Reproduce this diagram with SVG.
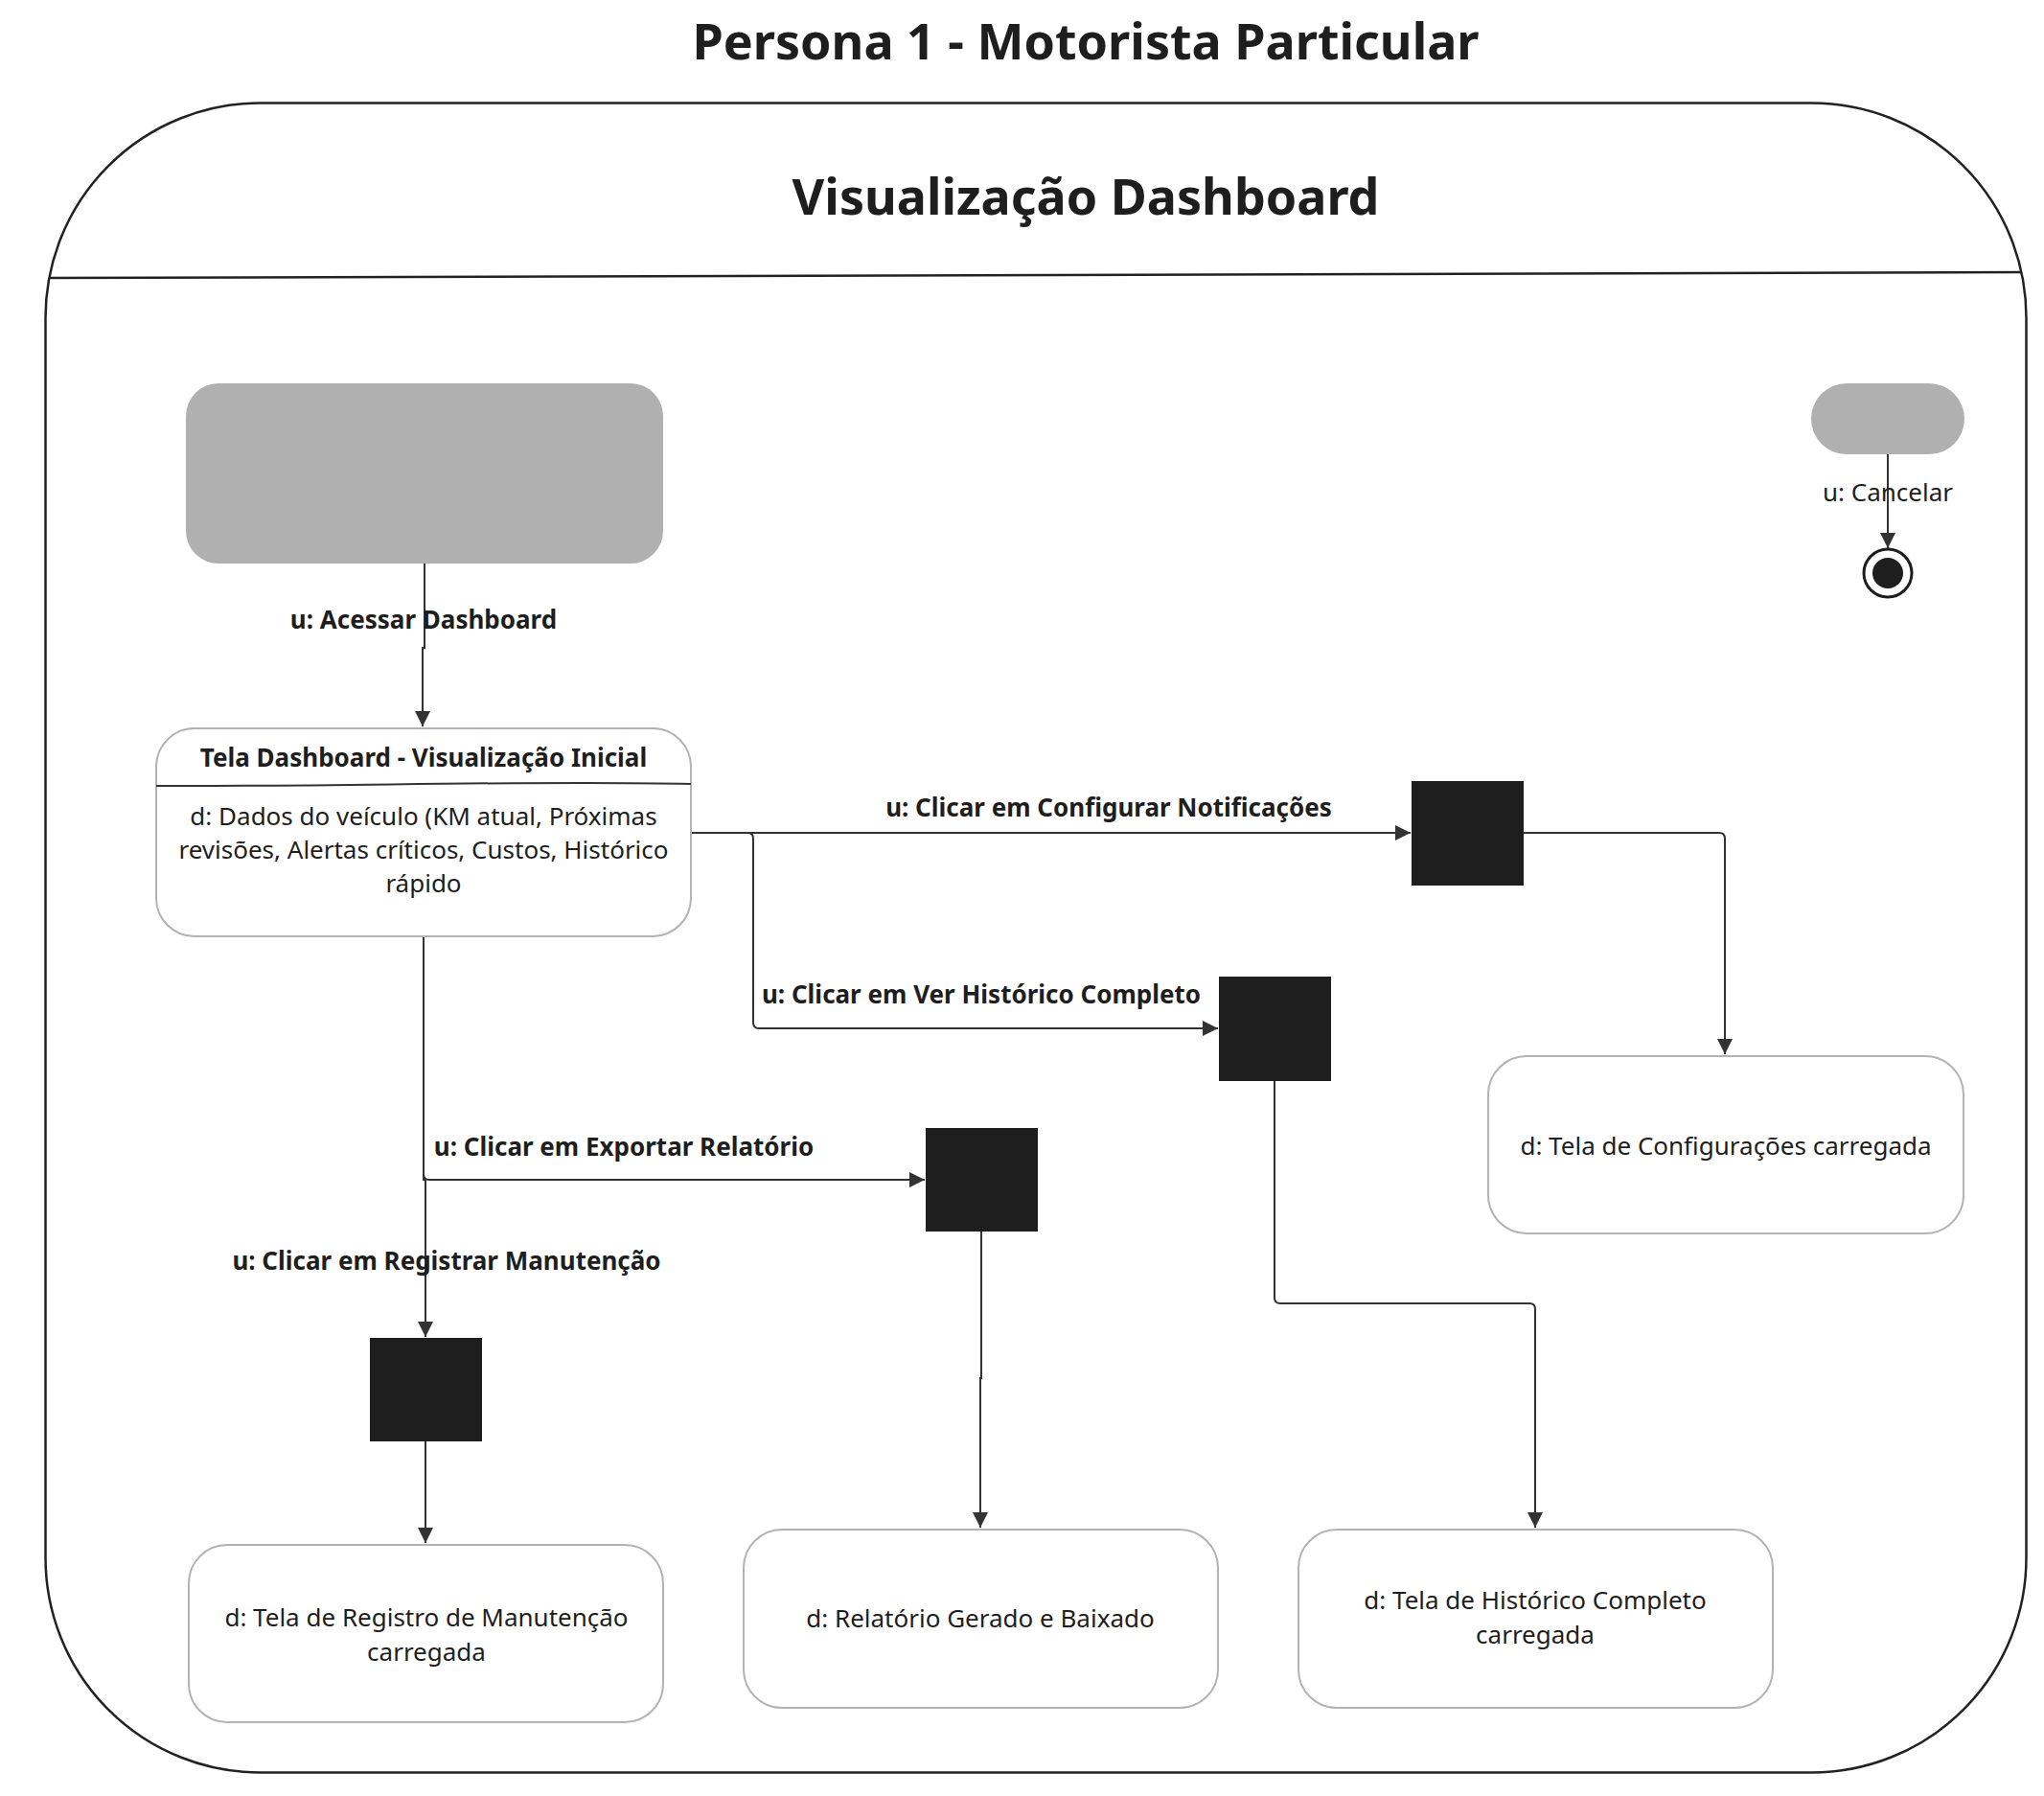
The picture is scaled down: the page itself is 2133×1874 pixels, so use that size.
<svg xmlns="http://www.w3.org/2000/svg" width="2133" height="1874" viewBox="0 0 2133 1874">
<defs>
<style>
.title{font-family:"Noto Sans","Open Sans","DejaVu Sans",sans-serif;font-weight:700;font-size:52px;fill:#1e1e1e;text-anchor:middle}
.lbl{font-family:"Noto Sans","Open Sans","DejaVu Sans",sans-serif;font-weight:700;font-size:26px;fill:#1e1e1e;text-anchor:middle}
.txt{font-family:"Noto Sans","Open Sans","DejaVu Sans",sans-serif;font-size:26px;fill:#1e1e1e;text-anchor:middle}
.state{fill:#ffffff;stroke:#b3b3b3;stroke-width:2}
.gray{fill:#b0b0b0}
.bar{fill:#1e1e1e}
.conn{fill:none;stroke:#333333;stroke-width:2}
</style>
<marker id="arr" markerUnits="userSpaceOnUse" viewBox="0 0 10 10" markerWidth="18" markerHeight="16" refX="10" refY="5" orient="auto">
<path d="M0,0 L10,5 L0,10 z" fill="#333333"/>
</marker>
</defs>
<rect width="2133" height="1874" fill="#ffffff"/>
<text class="title" x="1133" y="62">Persona 1 - Motorista Particular</text>
<g id="frame">
<rect x="47.5" y="107.5" width="2067" height="1742" rx="224" ry="224" fill="none" stroke="#222222" stroke-width="2.5"/>
<path d="M51.5,290 L2110,284" fill="none" stroke="#222222" stroke-width="2.5"/>
<text class="title" x="1133" y="224">Visualização Dashboard</text>
</g>
<g id="connectors">
<path class="conn" d="M443,588 V676 H441 V758" marker-end="url(#arr)"/>
<path class="conn" d="M721,869 H1472" marker-end="url(#arr)"/>
<path class="conn" d="M1590,869 H1794 Q1800,869 1800,875 V1100" marker-end="url(#arr)"/>
<path class="conn" d="M721,869 H780 Q786,869 786,875 V1067 Q786,1073 792,1073 H1271" marker-end="url(#arr)"/>
<path class="conn" d="M1330,1128 V1354 Q1330,1360 1336,1360 H1596 Q1602,1360 1602,1366 V1594" marker-end="url(#arr)"/>
<path class="conn" d="M442,977 V1225 Q442,1231 448,1231 H965" marker-end="url(#arr)"/>
<path class="conn" d="M442,977 V1231 H444 V1395" marker-end="url(#arr)"/>
<path class="conn" d="M1024,1285 V1438 H1023 V1594" marker-end="url(#arr)"/>
<path class="conn" d="M444,1504 V1610" marker-end="url(#arr)"/>
<path class="conn" d="M1970,474 V572" marker-end="url(#arr)"/>
<text class="lbl" x="442" y="656">u: Acessar Dashboard</text>
<text class="lbl" x="1157" y="852">u: Clicar em Configurar Notificações</text>
<text class="lbl" x="1024" y="1047">u: Clicar em Ver Histórico Completo</text>
<text class="lbl" x="651" y="1206">u: Clicar em Exportar Relatório</text>
<text class="lbl" x="466" y="1325">u: Clicar em Registrar Manutenção</text>
<text class="txt" x="1970" y="523">u: Cancelar</text>
</g>
<g id="start-main">
<rect class="gray" x="194" y="400" width="498" height="188" rx="34" ry="34"/>
</g>
<g id="start-cancel">
<rect class="gray" x="1890" y="400" width="160" height="74" rx="37" ry="37"/>
</g>
<g id="final">
<circle cx="1970" cy="598" r="25" fill="#ffffff" stroke="#1e1e1e" stroke-width="3"/>
<circle cx="1970" cy="598" r="16" fill="#1e1e1e"/>
</g>
<g id="tela-dashboard">
<rect class="state" x="163" y="760" width="558" height="217" rx="40" ry="40"/>
<path d="M163,820 C350,821 560,814 721,818" fill="none" stroke="#333333" stroke-width="2"/>
<text class="lbl" x="442" y="800">Tela Dashboard - Visualização Inicial</text>
<text class="txt" x="442" y="861">d: Dados do veículo (KM atual, Próximas</text>
<text class="txt" x="442" y="896">revisões, Alertas críticos, Custos, Histórico</text>
<text class="txt" x="442" y="931">rápido</text>
</g>
<g id="fork-config"><rect class="bar" x="1473" y="815" width="117" height="109"/></g>
<g id="fork-historico"><rect class="bar" x="1272" y="1019" width="117" height="109"/></g>
<g id="fork-exportar"><rect class="bar" x="966" y="1177" width="117" height="108"/></g>
<g id="fork-registrar"><rect class="bar" x="386" y="1396" width="117" height="108"/></g>
<g id="state-config">
<rect class="state" x="1553" y="1102" width="496" height="185" rx="40" ry="40"/>
<text class="txt" x="1801" y="1205">d: Tela de Configurações carregada</text>
</g>
<g id="state-registro">
<rect class="state" x="197" y="1612" width="495" height="185" rx="40" ry="40"/>
<text class="txt" x="445" y="1697">d: Tela de Registro de Manutenção</text>
<text class="txt" x="445" y="1733">carregada</text>
</g>
<g id="state-relatorio">
<rect class="state" x="776" y="1596" width="495" height="186" rx="40" ry="40"/>
<text class="txt" x="1023" y="1698">d: Relatório Gerado e Baixado</text>
</g>
<g id="state-historico">
<rect class="state" x="1355" y="1596" width="495" height="186" rx="40" ry="40"/>
<text class="txt" x="1602" y="1679">d: Tela de Histórico Completo</text>
<text class="txt" x="1602" y="1715">carregada</text>
</g>
</svg>
